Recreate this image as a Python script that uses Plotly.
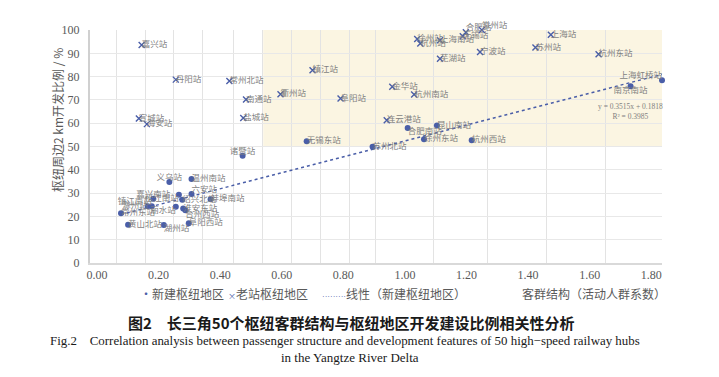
import numpy as np
import plotly.graph_objects as go

# ---------------- data ----------------
new_names = ["上海虹桥站", "南京南站", "合肥南站", "昆山南站", "徐州东站", "杭州西站",
             "苏州北站", "无锡东站", "诸暨站", "义乌站", "温州南站", "嘉兴南站",
             "六安站", "松江南站", "蚌埠南站", "绍兴北站", "镇江南站", "滁州站",
             "常州东站", "丽水站", "淮安东站", "台州西站", "阜阳西站", "湖州站", "黄山北站"]
new_x = [1.835, 1.733, 1.009, 1.104, 1.062, 1.217,
         0.895, 0.681, 0.473, 0.235, 0.307, 0.183,
         0.307, 0.266, 0.369, 0.277, 0.178, 0.165,
         0.078, 0.256, 0.280, 0.287, 0.298, 0.217, 0.101]
new_y = [78.4, 75.9, 57.9, 59.0, 53.1, 52.7,
         49.9, 52.2, 46.0, 34.8, 36.1, 27.6,
         29.6, 29.3, 27.4, 27.1, 24.4, 24.4,
         21.3, 24.1, 23.4, 22.6, 17.1, 16.3, 16.4]

old_names = ["嘉兴站", "丹阳站", "常州北站", "南通站", "衢州站", "镇江站", "阜阳站",
             "宣城站", "海安站", "盐城站", "徐州站", "杭州站", "上海南站", "合肥站",
             "无锡站", "常州站", "宁波站", "芜湖站", "上海站", "苏州站", "杭州东站",
             "金华站", "杭州南站", "连云港站"]
old_x = [0.145, 0.256, 0.430, 0.484, 0.596, 0.700, 0.791,
         0.136, 0.162, 0.475, 1.040, 1.050, 1.114, 1.198,
         1.188, 1.250, 1.244, 1.114, 1.474, 1.424, 1.629,
         0.959, 1.030, 0.941]
old_y = [93.6, 78.7, 78.1, 70.2, 72.4, 82.7, 70.6,
         62.0, 59.6, 62.2, 96.1, 94.2, 95.6, 99.0,
         97.3, 100.0, 90.6, 87.7, 98.0, 92.5, 89.6,
         75.6, 72.3, 61.3]

x_tick_vals = [0.0, 0.2, 0.4, 0.6, 0.8, 1.0, 1.2, 1.4, 1.6, 1.8]
x_tick_text = ["0.00", "0.20", "0.40", "0.60", "0.80", "1.00", "1.20", "1.40", "1.60", "1.80"]
y_tick_vals = [0, 10, 20, 30, 40, 50, 60, 70, 80, 90, 100]
grid_x = [0.062, 0.158, 0.247, 0.344, 0.442, 0.539, 0.633, 0.727, 0.821,
          0.906, 1.094, 1.269, 1.461, 1.653]

# label placement (style)
new_pos = ["top left", "bottom center", "bottom right", "middle right", "middle right", "middle right",
           "middle right", "middle right", "top center", "top center", "middle right", "top center",
           "top right", "bottom left", "middle right", "middle right", "top left", "middle left",
           "middle right", "bottom left", "middle right", "bottom right", "middle right", "bottom right",
           "middle right"]
old_pos = ["middle right"] * len(old_names)
old_pos[13] = "top right"
old_pos[15] = "top right"

BLUE = "#4a5ea8"
GRAY = "#7f7f7f"
TXT = "#595959"

slope, intercept = np.polyfit(new_x, new_y, 1)
tx = np.array([min(new_x), max(new_x)])
ty = slope * tx + intercept

fig = go.Figure()

fig.add_shape(type="rect", xref="x", yref="y", x0=0.54, x1=1.835, y0=50, y1=100,
              fillcolor="#fbf5e2", line_width=0, layer="below")

fig.add_trace(go.Scatter(x=tx, y=ty, mode="lines", name="线性（新建枢纽地区）",
                         line=dict(color=BLUE, width=1.5, dash="dot"), showlegend=False))
fig.add_trace(go.Scatter(x=new_x, y=new_y, mode="markers", name="新建枢纽地区",
                         marker=dict(color=BLUE, size=6), showlegend=False, cliponaxis=False))
fig.add_trace(go.Scatter(x=old_x, y=old_y, mode="markers", name="老站枢纽地区",
                         marker=dict(color=BLUE, size=6, symbol="x-thin",
                                     line=dict(color=BLUE, width=1.4)),
                         showlegend=False, cliponaxis=False))
fig.add_trace(go.Scatter(x=new_x, y=new_y, mode="text", text=new_names, textposition=new_pos,
                         textfont=dict(size=8.5, color=GRAY, family="Noto Sans CJK SC"),
                         showlegend=False, cliponaxis=False, hoverinfo="skip"))
fig.add_trace(go.Scatter(x=old_x, y=old_y, mode="text", text=old_names, textposition=old_pos,
                         textfont=dict(size=8.5, color=GRAY, family="Noto Sans CJK SC"),
                         showlegend=False, cliponaxis=False, hoverinfo="skip"))

fig.update_xaxes(range=[-0.0227, 1.835], tickvals=x_tick_vals, ticktext=x_tick_text,
                 showgrid=False, zeroline=False, showline=True, linecolor="#d9d9d9", linewidth=2,
                 ticks="", tickfont=dict(family="Liberation Serif", size=12, color=TXT),
                 minor=dict(tickvals=grid_x, showgrid=True, gridcolor="#e3e3e3", gridwidth=1))
fig.update_yaxes(range=[0, 100], tickvals=y_tick_vals, showgrid=True, gridcolor="#e8e8e8",
                 zeroline=False, showline=True, linecolor="#d0d0d0", linewidth=2, ticks="",
                 ticklabelstandoff=6,
                 tickfont=dict(family="Liberation Serif", size=12, color=TXT))

ann = []
ann.append(dict(text="枢纽周边2 km开发比例 / %", textangle=-90, xref="paper", yref="paper",
                x=(57 - 90) / 572, y=(263 - 120) / 233, xanchor="center", yanchor="middle",
                showarrow=False, font=dict(family="Noto Sans CJK SC", size=12, color=TXT)))
ann.append(dict(text="y = 0.3515x + 0.1818<br>R² = 0.3985", xref="x", yref="y", x=1.734, y=64.9,
                showarrow=False, align="center",
                font=dict(family="Liberation Serif", size=7.5, color=GRAY)))
legend_y = (263 - 293) / 233
LEG = dict(family="Noto Sans CJK SC", size=12, color=TXT)
ann.append(dict(text=f"<span style='color:{BLUE}'>•</span>新建枢纽地区", xref="paper", yref="paper",
                x=(138 - 90) / 572, y=legend_y, xanchor="left", yanchor="middle",
                showarrow=False, font=LEG))
ann.append(dict(text=f"<span style='color:{BLUE};font-size:8px'>×</span>老站枢纽地区", xref="paper",
                yref="paper", x=(226 - 90) / 572, y=legend_y, xanchor="left", yanchor="middle",
                showarrow=False, font=LEG))
ann.append(dict(text=f"<span style='color:{BLUE};font-family:Liberation Sans;font-size:8px'>\u00b7\u00b7\u00b7\u00b7\u00b7\u00b7\u00b7\u00b7\u00b7</span>线性（新建枢纽地区）",
                xref="paper", yref="paper", x=(320 - 90) / 572, y=legend_y, xanchor="left",
                yanchor="middle", showarrow=False, font=LEG))
ann.append(dict(text="客群结构（活动人群系数）", xref="paper", yref="paper", x=(668 - 90) / 572,
                y=legend_y, xanchor="right", yanchor="middle", showarrow=False, font=LEG))
ann.append(dict(text="<b>图2\u2003长三角50个枢纽客群结构与枢纽地区开发建设比例相关性分析</b>",
                xref="paper", yref="paper", x=(351 - 90) / 572, y=(263 - 323) / 233,
                yanchor="middle", showarrow=False,
                font=dict(family="Noto Sans CJK SC", size=15, color="#1a1a1a")))
ann.append(dict(text="Fig.2\u2002\u2002Correlation analysis between passenger structure and development features of 50 high−speed railway hubs",
                xref="paper", yref="paper", x=(345 - 90) / 572, y=(263 - 341) / 233,
                yanchor="middle", showarrow=False,
                font=dict(family="Liberation Serif", size=12.9, color="#1a1a1a")))
ann.append(dict(text="in the Yangtze River Delta", xref="paper", yref="paper",
                x=(350 - 90) / 572, y=(263 - 357) / 233, yanchor="middle",
                showarrow=False, font=dict(family="Liberation Serif", size=13, color="#1a1a1a")))

fig.update_layout(width=719, height=377, margin=dict(l=90, r=57, t=30, b=114),
                  plot_bgcolor="white", paper_bgcolor="white", annotations=ann,
                  showlegend=False)

fig.write_html("out.html", config={"displayModeBar": False},
               post_script="document.body.style.margin='0';")
